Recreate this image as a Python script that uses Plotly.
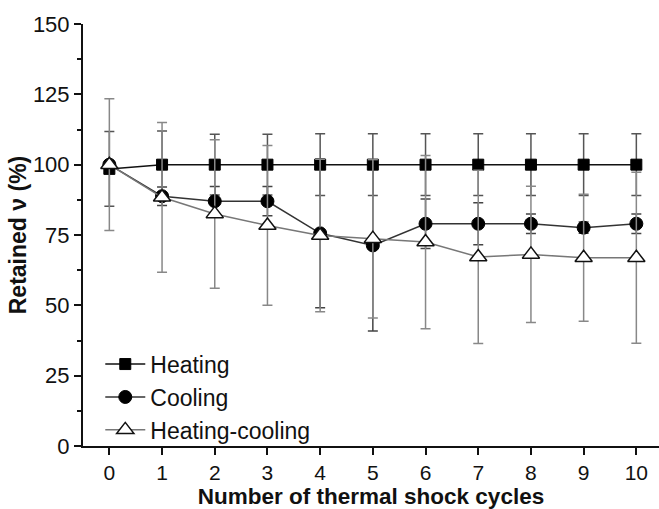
import plotly.graph_objects as go

cycles = [0, 1, 2, 3, 4, 5, 6, 7, 8, 9, 10]

heating = [98.5, 100, 100, 100, 100, 100, 100, 100, 100, 100, 100]
heating_err = [13.3, 12.0, 10.8, 10.8, 11.0, 11.0, 11.0, 11.0, 11.0, 11.0, 11.0]

cooling = [100, 88.8, 87.0, 87.0, 75.6, 71.3, 79.0, 79.0, 79.0, 77.6, 79.0]
cooling_err = [1.0, 3.3, 5.2, 5.2, 26.5, 30.4, 8.8, 7.5, 3.5, 2.0, 3.5]

heat_cool = [100, 88.4, 82.5, 78.4, 74.8, 73.7, 72.5, 67.2, 68.1, 66.9, 66.9]
heat_cool_err = [23.4, 26.6, 26.4, 28.4, 27.1, 28.2, 30.8, 30.8, 24.2, 22.6, 30.4]

y_ticks = [0, 25, 50, 75, 100, 125, 150]

FONT = "Liberation Sans, Arial, sans-serif"

fig = go.Figure()

fig.add_trace(go.Scatter(
    x=cycles, y=heating, name="Heating", mode="lines+markers",
    line=dict(color="#111111", width=1.5),
    marker=dict(symbol="square", size=11, color="#000000",
                line=dict(color="#000000", width=1)),
    error_y=dict(type="data", array=heating_err, visible=True,
                 color="#555555", thickness=1.5, width=5),
))
fig.add_trace(go.Scatter(
    x=cycles, y=cooling, name="Cooling", mode="lines+markers",
    line=dict(color="#333333", width=1.5),
    marker=dict(symbol="circle", size=13, color="#000000",
                line=dict(color="#000000", width=1)),
    error_y=dict(type="data", array=cooling_err, visible=True,
                 color="#444444", thickness=1.5, width=5),
))
fig.add_trace(go.Scatter(
    x=cycles, y=heat_cool, name="Heating-cooling", mode="lines+markers",
    line=dict(color="#777777", width=1.5),
    marker=dict(symbol="triangle-up", size=15, color="#ffffff",
                line=dict(color="#111111", width=1.5)),
    error_y=dict(type="data", array=heat_cool_err, visible=True,
                 color="#888888", thickness=1.5, width=5),
))

fig.update_layout(
    width=659, height=509,
    margin=dict(l=83, r=0, t=24, b=63),
    paper_bgcolor="white", plot_bgcolor="white",
    font=dict(family=FONT, size=22, color="#111111"),
    showlegend=True,
    legend=dict(x=0.03, y=0.245, xanchor="left", yanchor="top",
                bgcolor="rgba(0,0,0,0)", font=dict(size=23),
                tracegroupgap=0, itemwidth=40),
)

fig.update_xaxes(
    range=[-0.5, 10.43], tickvals=cycles, ticktext=[str(c) for c in cycles],
    showgrid=False, zeroline=False, showline=True, linecolor="#111111",
    linewidth=2, ticks="outside", ticklen=7, tickwidth=2, tickcolor="#111111",
    tickfont=dict(size=21),
    title=dict(text="<b>Number of thermal shock cycles</b>",
               font=dict(size=22.5), standoff=2),
)
fig.update_yaxes(
    range=[0, 150], tickvals=y_ticks, ticktext=[str(v) for v in y_ticks],
    showgrid=False, zeroline=False, showline=True, linecolor="#111111",
    linewidth=2, ticks="outside", ticklen=7, tickwidth=2, tickcolor="#111111",
    tickfont=dict(size=22),
    minor=dict(dtick=12.5, tick0=0, ticks="outside", ticklen=4,
               tickwidth=2, tickcolor="#111111", showgrid=False),
    title=dict(text="<b>Retained ν (%)</b>", font=dict(size=23), standoff=0),
)

fig.write_html("out.html")
